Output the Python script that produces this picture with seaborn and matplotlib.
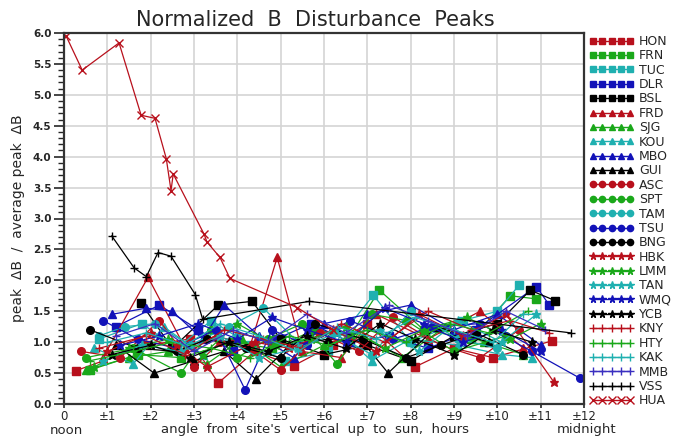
import numpy as np
import pandas as pd
import matplotlib
matplotlib.use("Agg")
import matplotlib.pyplot as plt
from matplotlib.lines import Line2D
import seaborn as sns

# ---------------- data ----------------
stations = ["HON", "FRN", "TUC", "DLR", "BSL", "FRD", "SJG", "KOU", "MBO", "GUI",
            "ASC", "SPT", "TAM", "TSU", "BNG", "HBK", "LMM", "TAN", "WMQ", "YCB",
            "KNY", "HTY", "KAK", "MMB", "VSS", "HUA"]

HON_x = [0.28, 1.9, 2.9, 3.56, 4.4, 5.3, 6.2, 7.0, 8.1, 9.0, 9.9, 11.26]
HON_y = [0.54, 0.95, 1.05, 0.34, 0.85, 0.62, 0.95, 1.3, 0.6, 0.9, 0.75, 1.02]
FRN_x = [0.6, 1.7, 2.7, 3.9, 4.8, 5.8, 6.6, 7.28, 8.3, 9.4, 10.3, 10.9]
FRN_y = [0.55, 0.8, 0.75, 1.0, 0.9, 1.2, 1.1, 1.84, 1.2, 1.05, 1.75, 1.7]
TUC_x = [0.8, 1.8, 2.6, 3.4, 4.3, 5.1, 6.1, 7.14, 8.0, 9.2, 10.0, 10.5]
TUC_y = [1.05, 1.3, 0.9, 1.35, 0.95, 0.7, 0.85, 1.76, 1.0, 1.35, 1.5, 1.92]
DLR_x = [1.2, 2.2, 3.1, 3.9, 4.9, 5.7, 6.6, 7.5, 8.4, 9.5, 10.9, 11.2]
DLR_y = [1.25, 1.6, 1.2, 0.85, 1.05, 1.3, 1.0, 1.1, 0.9, 1.2, 1.9, 1.6]
BSL_x = [1.78, 2.5, 3.56, 4.34, 5.0, 6.0, 7.0, 8.0, 9.0, 10.0, 10.76, 11.34]
BSL_y = [1.63, 0.9, 1.6, 1.66, 1.05, 0.8, 0.95, 0.7, 1.1, 1.3, 1.84, 1.67]
FRD_x = [0.9, 1.94, 2.8, 3.5, 4.3, 4.92, 5.5, 6.4, 7.2, 8.4, 9.6, 10.6]
FRD_y = [0.75, 2.05, 0.9, 1.1, 0.95, 2.37, 0.85, 0.75, 1.45, 1.05, 1.5, 0.9]
SJG_x = [0.5, 1.5, 2.4, 3.3, 4.1, 5.0, 6.0, 6.9, 7.8, 8.8, 9.7, 10.6]
SJG_y = [0.55, 0.75, 0.85, 0.65, 1.05, 0.6, 0.95, 1.1, 0.75, 1.25, 1.0, 0.8]
KOU_x = [0.7, 1.6, 2.3, 3.2, 4.0, 5.2, 6.3, 7.1, 8.0, 9.1, 10.1, 10.8]
KOU_y = [0.9, 0.65, 1.25, 0.8, 1.15, 0.95, 1.2, 0.7, 1.05, 0.95, 0.8, 0.75]
MBO_x = [1.1, 1.9, 2.5, 3.2, 3.7, 4.5, 5.3, 6.0, 7.0, 8.0, 9.0, 10.0, 11.0]
MBO_y = [1.45, 1.55, 1.5, 1.05, 1.6, 1.1, 0.75, 1.3, 1.45, 1.6, 1.2, 1.45, 0.95]
GUI_x = [1.2, 2.08, 3.0, 3.7, 4.43, 5.2, 6.1, 6.9, 7.48, 8.6, 9.8]
GUI_y = [0.95, 0.5, 0.7, 0.85, 0.4, 0.95, 1.05, 1.0, 0.5, 1.25, 1.0]
ASC_x = [0.4, 1.3, 2.2, 3.0, 3.6, 4.3, 5.0, 5.9, 6.8, 7.6, 8.7, 9.6, 10.5]
ASC_y = [0.85, 0.75, 1.35, 0.6, 1.0, 0.9, 0.55, 1.15, 0.85, 1.4, 0.95, 0.75, 1.2]
SPT_x = [0.5, 1.6, 2.7, 3.4, 4.0, 4.7, 5.5, 6.3, 7.1, 7.9, 9.0, 10.2]
SPT_y = [0.75, 0.9, 0.5, 1.2, 0.75, 1.05, 1.3, 0.65, 1.45, 1.35, 0.85, 1.1]
TAM_x = [0.8, 1.4, 2.1, 2.9, 3.8, 4.6, 5.4, 6.2, 7.1, 8.0, 9.1, 10.0]
TAM_y = [1.1, 1.25, 1.3, 0.95, 1.25, 1.55, 1.0, 1.15, 0.8, 1.5, 1.05, 0.9]
TSU_x = [0.9, 1.7, 2.6, 3.5, 4.18, 4.8, 5.6, 6.6, 7.6, 8.5, 9.6, 10.8, 11.9]
TSU_y = [1.35, 1.05, 0.9, 1.2, 0.23, 1.2, 0.95, 1.35, 1.05, 1.25, 1.3, 0.85, 0.42]
BNG_x = [0.6, 1.7, 2.6, 3.3, 4.2, 5.0, 5.8, 6.9, 7.9, 8.7, 9.5, 10.6]
BNG_y = [1.2, 0.9, 0.85, 1.05, 0.9, 0.75, 1.3, 1.05, 0.75, 0.95, 1.15, 0.8]
HBK_x = [1.0, 2.0, 2.6, 3.3, 4.4, 5.2, 6.2, 7.2, 8.2, 9.2, 10.2, 11.3]
HBK_y = [0.85, 1.15, 0.95, 0.6, 1.0, 0.9, 1.2, 0.85, 1.45, 1.1, 1.45, 0.36]
LMM_x = [0.7, 1.5, 2.4, 3.2, 4.0, 4.9, 5.7, 6.5, 7.4, 8.3, 9.3, 10.3, 11.0]
LMM_y = [0.6, 0.9, 1.05, 0.8, 1.3, 0.95, 1.05, 1.25, 0.9, 1.2, 1.4, 1.05, 1.3]
TAN_x = [0.9, 1.8, 2.7, 3.6, 4.5, 5.4, 6.3, 7.3, 8.2, 9.1, 10.1, 10.9]
TAN_y = [0.7, 0.95, 0.85, 1.1, 0.75, 0.9, 1.15, 1.2, 0.85, 1.35, 1.0, 1.45]
WMQ_x = [1.3, 2.2, 3.1, 4.0, 4.8, 5.6, 6.5, 7.4, 8.3, 9.2, 10.1, 11.0]
WMQ_y = [0.95, 1.1, 1.3, 1.05, 1.4, 1.2, 1.0, 1.55, 1.3, 1.0, 1.2, 0.85]
YCB_x = [1.1, 2.0, 2.9, 3.8, 4.7, 5.6, 6.5, 7.3, 8.1, 9.0, 9.9, 10.8]
YCB_y = [0.8, 0.95, 0.75, 1.0, 0.85, 1.1, 0.9, 1.3, 1.05, 0.8, 1.2, 1.0]
KNY_x = [0.8, 1.9, 2.8, 3.7, 4.6, 5.5, 6.4, 7.4, 8.4, 9.4, 10.3, 11.2]
KNY_y = [0.9, 1.1, 0.8, 1.2, 1.05, 0.9, 1.3, 1.0, 1.5, 1.2, 1.35, 1.15]
HTY_x = [0.6, 1.6, 2.5, 3.4, 4.3, 5.2, 6.1, 7.0, 7.9, 8.9, 9.8, 10.7]
HTY_y = [0.7, 0.85, 1.0, 0.9, 0.75, 1.1, 0.95, 1.2, 1.0, 1.3, 1.15, 1.5]
KAK_x = [1.0, 1.9, 2.8, 3.6, 4.5, 5.4, 6.3, 7.2, 8.1, 9.0, 9.9, 10.6, 10.9]
KAK_y = [1.0, 1.15, 0.95, 1.3, 1.1, 0.85, 1.25, 1.05, 1.4, 1.2, 1.0, 1.45, 1.45]
MMB_x = [1.2, 2.1, 3.0, 3.9, 4.7, 5.6, 6.5, 7.5, 8.4, 9.3, 10.2, 11.1]
MMB_y = [1.1, 1.3, 0.85, 1.2, 1.0, 1.45, 1.15, 1.6, 1.35, 1.1, 1.5, 1.2]
VSS_x = [1.1, 1.62, 1.9, 2.17, 2.47, 3.03, 3.2, 5.66, 11.7]
VSS_y = [2.72, 2.2, 2.06, 2.45, 2.39, 1.77, 1.37, 1.66, 1.15]
HUA_x = [0.05, 0.42, 1.27, 1.78, 2.1, 2.36, 2.47, 2.52, 3.23, 3.3, 3.6, 3.83, 5.38, 6.2]
HUA_y = [5.95, 5.40, 5.84, 4.67, 4.62, 3.97, 3.45, 3.72, 2.75, 2.62, 2.37, 2.03, 1.56, 1.2]

xs = {s: globals()[s + "_x"] for s in stations}
ys = {s: globals()[s + "_y"] for s in stations}

xticks = list(range(0, 13))
xticklabels = ["0"] + ["\u00b1%d" % i for i in range(1, 13)]

# ---------------- styles ----------------
RED, GRN, CYN, BLU, BLK = "#b8101c", "#1aa81a", "#1fb0b0", "#1212b8", "#000000"
cols = [RED, GRN, CYN, BLU, BLK]
marks = ["s"] * 5 + ["^"] * 5 + ["o"] * 5 + ["*"] * 5 + ["+"] * 5 + ["x"]
colors = cols * 5 + [RED]
colors[23] = "#3a2fc0"

sns.set_style("white")
plt.rcParams["font.family"] = ["DejaVu Sans"]

fig = plt.figure(figsize=(6.76, 4.37), dpi=100)
ax = fig.add_axes([64 / 676, 33 / 437, 520 / 676, 371 / 437])

for i, s in enumerate(stations):
    m = marks[i]
    ms = 5.5 if m in ("s", "^", "o") else (6.5 if m == "*" else 6)
    sns.lineplot(x=xs[s], y=ys[s], sort=False, estimator=None, ax=ax,
                 color=colors[i], marker=m, markersize=ms, linewidth=0.9,
                 markeredgewidth=1.0, markeredgecolor=colors[i], legend=False)

ax.set_xlim(0, 12)
ax.set_ylim(0, 6)
ax.set_xticks(xticks)
ax.set_xticklabels(xticklabels, fontsize=8.5)
ax.set_yticks(np.arange(0, 6.01, 0.5))
ax.set_yticklabels(["%.1f" % v for v in np.arange(0, 6.01, 0.5)], fontsize=7.5, fontweight="bold")
ax.set_yticks(np.arange(0, 6.01, 0.1), minor=True)
ax.grid(True, which="major", color="#d4d4d4", linewidth=1.2)
ax.set_axisbelow(True)
ax.tick_params(axis="y", which="major", direction="out", length=7, width=1.2, left=True, pad=2)
ax.tick_params(axis="y", which="minor", direction="out", length=4, width=1.0, left=True)
ax.tick_params(axis="x", which="major", direction="out", length=3, width=1.2, bottom=True, pad=1.5)
for sp in ax.spines.values():
    sp.set_color("#333333")
    sp.set_linewidth(1.6)
ax.set_xlabel("")
ax.set_ylabel("peak  \u0394B  /  average peak  \u0394B", fontsize=10, labelpad=6)

fig.text(66 / 676, 7 / 437, "noon", ha="center", va="center", fontsize=9.5)
fig.text(315 / 676, 7 / 437, "angle  from  site's  vertical  up  to  sun,  hours",
         ha="center", va="center", fontsize=9.5)
fig.text(587 / 676, 7 / 437, "midnight", ha="center", va="center", fontsize=9.5)
fig.text(315 / 676, 1 - 20 / 437, "Normalized  B  Disturbance  Peaks",
         ha="center", va="center", fontsize=15)

handles = []
for i, s in enumerate(stations):
    m = marks[i]
    ms = 4.5 if m in ("s", "^", "o") else 5.5
    handles.append(Line2D([0], [0], color=colors[i], marker=m, markersize=ms,
                          linewidth=1.0, markeredgewidth=1.0, label=s))
fig.legend(handles=handles, loc="upper left", bbox_to_anchor=(589 / 676, 1 - 35 / 437),
           frameon=False, numpoints=5, handlelength=3.6, handletextpad=0.4,
           labelspacing=0.11, fontsize=9, borderaxespad=0, borderpad=0)

fig.savefig("out.png", dpi=100)
